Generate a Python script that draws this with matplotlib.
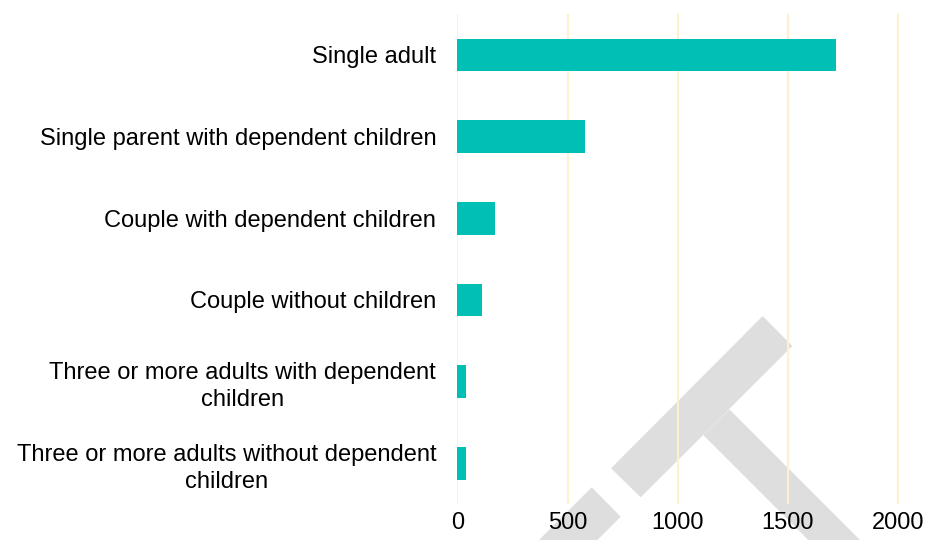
import matplotlib.pyplot as plt
from matplotlib.patches import Polygon

plt.rcParams['font.family'] = ['Liberation Sans', 'DejaVu Sans']

categories = ['Single adult',
              'Single parent with dependent children',
              'Couple with dependent children',
              'Couple without children',
              'Three or more adults with dependent\nchildren',
              'Three or more adults without dependent\nchildren']
values = [1717, 581, 172, 112, 41, 39]
xticks = [0, 500, 1000, 1500, 2000]

bar_color = '#00BFB4'
grid_color = '#FFF0D0'
mark_color = '#DEDEDE'

fig = plt.figure(figsize=(9.28, 5.4), dpi=100)

# grey watermark behind the chart, in pixel coords of the figure
bg = fig.add_axes([0, 0, 1, 1], zorder=0)
bg.set_xlim(0, 928)
bg.set_ylim(540, 0)
bg.axis('off')
shapes = [
    [(762.7, 316), (792.3, 346), (640.7, 497.3), (611, 468.3)],
    [(591.7, 487.3), (620.7, 516.7), (470.7, 666.7), (441.7, 637.3)],
    [(703.3, 435), (729.3, 409.3), (929.3, 609.3), (903.3, 635)],
]
for pts in shapes:
    bg.add_patch(Polygon(pts, closed=True, facecolor=mark_color, edgecolor='none'))

ax = fig.add_axes([457 / 928, 1 - 504 / 540, (920 - 457) / 928, 490 / 540], zorder=1)
ax.patch.set_alpha(0)

y = list(range(len(categories)))
ax.barh(y, values, height=0.4, color=bar_color, zorder=3)

ax.set_xlim(-2, 2100)
ax.set_ylim(len(categories) - 0.5, -0.5)
ax.set_xticks(xticks)
ax.set_xticklabels([str(t) for t in xticks], fontsize=17)
ax.set_yticks(y)
ax.set_yticklabels(categories, fontsize=17, multialignment='center', linespacing=1.3)
ax.tick_params(axis='y', length=0, pad=15)
ax.tick_params(axis='x', length=0, pad=6)
ax.grid(axis='x', color=grid_color, linewidth=1.5, zorder=0)
ax.set_axisbelow(True)
for s in ax.spines.values():
    s.set_visible(False)

fig.savefig('out.png', dpi=100)
